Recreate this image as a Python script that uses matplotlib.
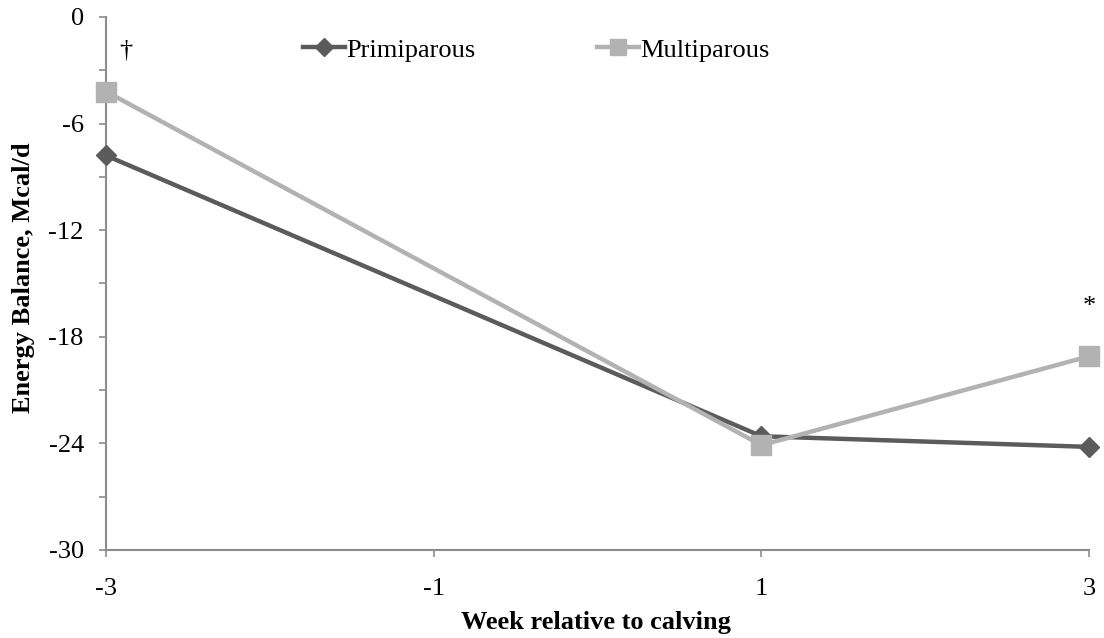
import matplotlib
matplotlib.use("Agg")
import matplotlib.pyplot as plt
from matplotlib.lines import Line2D

plt.rcParams['font.family'] = ['Liberation Serif', 'DejaVu Serif']

# energy balance by week relative to calving
weeks = [-3, 1, 3]
primiparous = [-7.8, -23.6, -24.2]
multiparous = [-4.2, -24.1, -19.1]
x_ticks = [-3, -1, 1, 3]
y_ticks = [0, -3, -6, -9, -12, -15, -18, -21, -24, -27, -30]
y_labels = ['0', '', '-6', '', '-12', '', '-18', '', '-24', '', '-30']

dark = '#5b5b5b'
light = '#b2b2b2'
axis_gray = '#8c8c8c'
fs = 19

fig = plt.figure(figsize=(11.04, 6.38), dpi=100)
ax = fig.add_axes([0.096, 0.138, 0.8905, 0.8355])

ax.plot(weeks, primiparous, color=dark, lw=3.2, marker='D', ms=10,
        mec=dark, mfc=dark, clip_on=False, zorder=3)
ax.plot(weeks, multiparous, color=light, lw=3.2, marker='s', ms=14,
        mec=light, mfc=light, clip_on=False, zorder=4)

ax.set_xlim(-3, 3)
ax.set_ylim(-30, 0)
ax.set_xticks(x_ticks)
ax.set_xticklabels([str(v) for v in x_ticks])
ax.set_yticks(y_ticks)
ax.set_yticklabels(y_labels)

for side in ['top', 'right']:
    ax.spines[side].set_visible(False)
for side in ['left', 'bottom']:
    ax.spines[side].set_color(axis_gray)
    ax.spines[side].set_linewidth(1.5)
ax.tick_params(axis='both', colors=axis_gray, labelcolor='black',
               labelsize=fs, length=5, width=1.2, direction='out')
ax.tick_params(axis='x', pad=15)
ax.tick_params(axis='y', pad=11)

ax.set_xlabel('Week relative to calving', fontsize=fs, fontweight='bold')
ax.xaxis.set_label_coords(0.498, -0.114)
ax.set_ylabel('Energy Balance, Mcal/d', fontsize=fs, fontweight='bold')
ax.yaxis.set_label_coords(-0.072, 0.51)

# significance markers
ax.text(-2.88, -1.9, '\u2020', fontsize=fs, ha='center', va='center')
ax.text(3.0, -16.3, '*', fontsize=fs, ha='center', va='center')

handles = [
    Line2D([], [], color=dark, lw=3.2, marker='D', ms=9, mfc=dark, mec=dark),
    Line2D([], [], color=light, lw=3.2, marker='s', ms=12, mfc=light, mec=light),
]
names = ['Primiparous', 'Multiparous']
starts = [303, 597]
for h, name, x0 in zip(handles, names, starts):
    leg = fig.legend([h], [name], loc='center left',
                     bbox_to_anchor=(x0 / 1104, 1 - 50 / 638), frameon=False,
                     fontsize=fs, handlelength=1.6, handletextpad=0.05,
                     borderpad=0, borderaxespad=0)

fig.savefig('out.png', dpi=100)
